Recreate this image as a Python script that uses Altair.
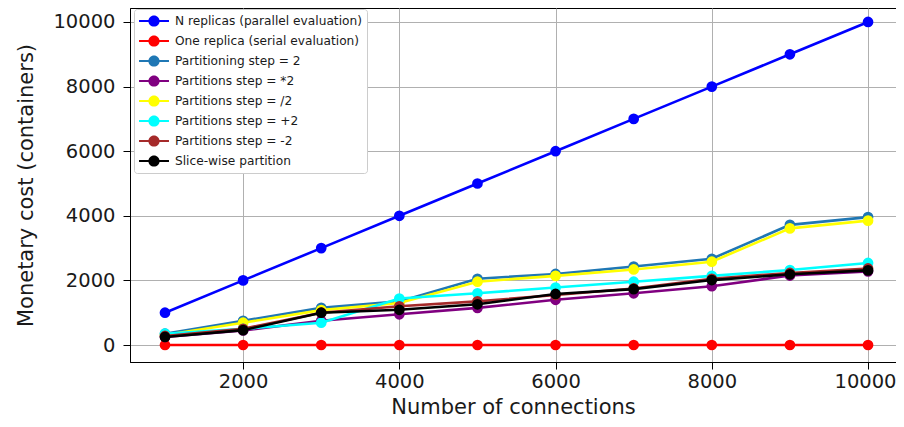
import altair as alt
import pandas as pd

connections = [1000, 2000, 3000, 4000, 5000, 6000, 7000, 8000, 9000, 10000]

series_names = [
    "N replicas (parallel evaluation)",
    "One replica (serial evaluation)",
    "Partitioning step = 2",
    "Partitions step = *2",
    "Partitions step = /2",
    "Partitions step = +2",
    "Partitions step = -2",
    "Slice-wise partition",
]
series_colors = ["#0000ff", "#ff0000", "#1f77b4", "#800080", "#ffff00", "#00ffff", "#a52a2a", "#000000"]

n_replicas = [1000, 2000, 3000, 4000, 5000, 6000, 7000, 8000, 9000, 10000]
one_replica = [0, 0, 0, 0, 0, 0, 0, 0, 0, 0]
partitioning_step_2 = [350, 750, 1150, 1350, 2050, 2200, 2430, 2670, 3720, 3960]
partitions_mul_2 = [250, 450, 750, 950, 1150, 1400, 1600, 1820, 2150, 2280]
partitions_div_2 = [310, 690, 1080, 1300, 1960, 2140, 2340, 2580, 3610, 3850]
partitions_plus_2 = [350, 500, 690, 1440, 1600, 1780, 1960, 2140, 2320, 2540]
partitions_minus_2 = [280, 500, 1000, 1200, 1350, 1550, 1750, 2050, 2230, 2370]
slice_wise = [250, 460, 1000, 1090, 1260, 1580, 1730, 2010, 2190, 2310]

all_values = [n_replicas, one_replica, partitioning_step_2, partitions_mul_2,
              partitions_div_2, partitions_plus_2, partitions_minus_2, slice_wise]

rows = []
for idx, (name, vals) in enumerate(zip(series_names, all_values)):
    for x, v in zip(connections, vals):
        rows.append({"series": name, "order": idx, "connections": x, "cost": v})
df = pd.DataFrame(rows)

font = "DejaVu Sans"

x_enc = alt.X("connections:Q",
              scale=alt.Scale(domain=[552, 10358], nice=False, zero=False),
              axis=alt.Axis(values=[2000, 4000, 6000, 8000, 10000], title="Number of connections",
                            format="d", labelFlush=30, labelFlushOffset=28))
y_enc = alt.Y("cost:Q",
              scale=alt.Scale(domain=[-526, 10433], nice=False, zero=False),
              axis=alt.Axis(values=[0, 2000, 4000, 6000, 8000, 10000], title="Monetary cost (containers)",
                            format="d"))

legend_path = ("M-2.14,-0.14L-0.6,-0.14L-0.6,0.14L-2.14,0.14Z "
               "M0.6,-0.14L2.14,-0.14L2.14,0.14L0.6,0.14Z "
               "M0.8,0A0.8,0.8,0,1,1,-0.8,0A0.8,0.8,0,1,1,0.8,0Z")

color_scale = alt.Scale(domain=series_names, range=series_colors)
legend = alt.Legend(title=None, orient="none", legendX=4, legendY=1,
                    symbolType=legend_path, symbolSize=196,
                    symbolStrokeWidth=0, symbolOpacity=1, symbolOffset=8,
                    labelFont=font, labelFontSize=12.2, labelColor="#1a1a1a",
                    labelOffset=14, labelLimit=400, rowPadding=6, padding=5,
                    strokeColor="#cccccc", fillColor="#ffffff",
                    cornerRadius=3)

layers = []
for name in series_names:
    base = alt.Chart(df).transform_filter(alt.datum.series == name)
    line = base.mark_line(strokeWidth=2.6).encode(
        x=x_enc, y=y_enc,
        color=alt.Color("series:N", scale=color_scale, legend=legend),
    )
    pts = base.mark_point(filled=True, size=115, opacity=1).encode(
        x=x_enc, y=y_enc,
        color=alt.Color("series:N", scale=color_scale, legend=legend),
    )
    layers.extend([line, pts])

chart = alt.layer(*layers).properties(
    width=766, height=354,
    autosize=alt.AutoSizeParams(type="none"),
    padding={"left": 122, "top": 0, "right": 0, "bottom": 57},
    background="#ffffff",
).configure_view(
    stroke="#000000", strokeWidth=1
).configure_axis(
    grid=True, gridColor="#b0b0b0", gridWidth=1,
    domainColor="#000000", domainWidth=1,
    tickColor="#000000", tickSize=7, tickWidth=1,
    labelFont=font, labelFontSize=19.5, labelColor="#1a1a1a",
    titleFont=font, titleFontSize=21, titleColor="#1a1a1a", titleFontWeight="normal",
).configure_axisX(
    labelPadding=3, titlePadding=6,
).configure_axisY(
    labelPadding=8, titlePadding=16,
)

chart.save("out.html", embed_options={"renderer": "svg", "actions": False})
